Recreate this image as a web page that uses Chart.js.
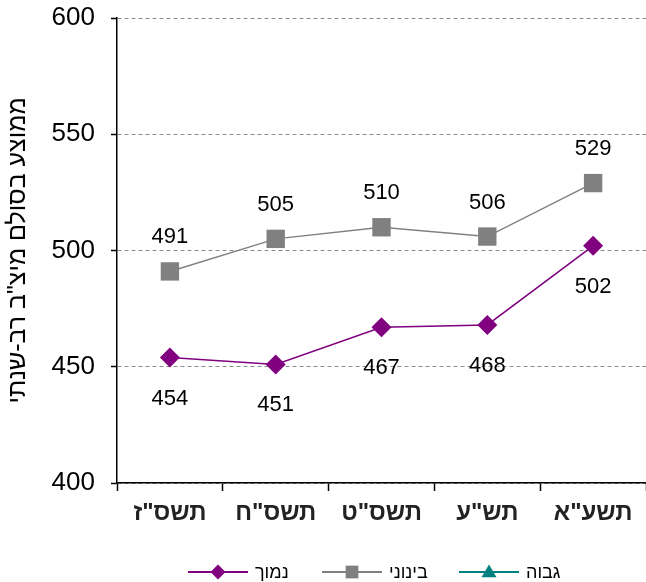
<!DOCTYPE html>
<html><head><meta charset="utf-8">
<script src="https://cdn.jsdelivr.net/npm/chart.js@4/dist/chart.umd.min.js"></script>
<style>html,body{margin:0;padding:0;background:#fff;overflow:hidden}</style>
</head><body>
<canvas id="c" width="646" height="582"></canvas>
<script>
const categories = ['תשס"ז', 'תשס"ח', 'תשס"ט', 'תש"ע', 'תשע"א'];
const lowValues = [454, 451, 467, 468, 502];
const midValues = [491, 505, 510, 506, 529];
const highValues = [null, null, null, null, null];
const yTicks = [400, 450, 500, 550, 600];
const seriesNames = ['נמוך', 'בינוני', 'גבוה'];
const axisTitle = 'ממוצע בסולם מיצ"ב רב-שנתי';

const PURPLE = '#800080', GRAY = '#808080', TEAL = '#008080';
const FONT = '"Liberation Sans", Arial, sans-serif';

function marker(ctx, style, x, y, color, s) {
  ctx.save();
  ctx.fillStyle = color;
  ctx.beginPath();
  if (style === 'rectRot') {
    ctx.moveTo(x, y - s); ctx.lineTo(x + s, y); ctx.lineTo(x, y + s); ctx.lineTo(x - s, y);
  } else if (style === 'rect') {
    ctx.rect(x - s * 0.85, y - s * 0.85, s * 1.7, s * 1.7);
  } else {
    ctx.moveTo(x, y - s); ctx.lineTo(x + s, y + s * 0.7); ctx.lineTo(x - s, y + s * 0.7);
  }
  ctx.closePath();
  ctx.fill();
  ctx.restore();
}

const labelPlugin = {
  id: 'valueLabels',
  afterDatasetsDraw(chart) {
    const ctx = chart.ctx;
    ctx.save();
    ctx.font = '22px ' + FONT;
    ctx.fillStyle = '#000';
    ctx.textAlign = 'center';
    ctx.textBaseline = 'middle';
    chart.data.datasets.forEach((ds, di) => {
      const meta = chart.getDatasetMeta(di);
      meta.data.forEach((pt, i) => {
        const v = ds.data[i];
        if (v == null) return;
        const off = di === 0 ? 41 : -34;
        ctx.fillText(String(v), pt.x, pt.y + off);
      });
    });
    ctx.restore();
  }
};

const legendPlugin = {
  id: 'customLegend',
  afterDraw(chart) {
    const ctx = chart.ctx;
    const y = 572;
    const starts = [188, 322, 459];
    const styles = ['rectRot', 'rect', 'triangle'];
    const colors = [PURPLE, GRAY, TEAL];
    ctx.save();
    ctx.font = '18px ' + FONT;
    ctx.textBaseline = 'middle';
    ctx.textAlign = 'left';
    chart.data.datasets.forEach((ds, i) => {
      const x0 = starts[i];
      ctx.strokeStyle = colors[i];
      ctx.lineWidth = 2;
      ctx.beginPath(); ctx.moveTo(x0, y); ctx.lineTo(x0 + 60, y); ctx.stroke();
      marker(ctx, styles[i], x0 + 30, y, colors[i], 7.5);
      ctx.fillStyle = '#000';
      ctx.fillText(ds.label, x0 + 67, y + 1);
    });
    ctx.restore();
  }
};

new Chart(document.getElementById('c'), {
  type: 'line',
  data: {
    labels: categories,
    datasets: [
      { label: seriesNames[0], data: lowValues, borderColor: PURPLE, backgroundColor: PURPLE,
        borderWidth: 1.5, pointStyle: 'rectRot', pointRadius: 10, pointHoverRadius: 10, pointBorderWidth: 0 },
      { label: seriesNames[1], data: midValues, borderColor: GRAY, backgroundColor: GRAY,
        borderWidth: 1.5, pointStyle: 'rect', pointRadius: 13, pointHoverRadius: 13, pointBorderWidth: 0 },
      { label: seriesNames[2], data: highValues, borderColor: TEAL, backgroundColor: TEAL,
        borderWidth: 1.5, pointStyle: 'triangle', pointRadius: 9, pointBorderWidth: 0 }
    ]
  },
  options: {
    responsive: false,
    animation: false,
    layout: { autoPadding: false, padding: { top: 18, right: -7, bottom: 0, left: 0 } },
    plugins: { legend: { display: false }, tooltip: { enabled: false } },
    scales: {
      x: {
        offset: true,
        grid: { offset: true, drawOnChartArea: false, drawTicks: true, tickLength: 8, tickColor: '#000', tickWidth: 1.5 },
        border: { display: true, color: '#000', width: 1.5 },
        ticks: { color: '#222', font: { family: FONT, size: 24, weight: 'bold' }, padding: 8, maxRotation: 0 },
        afterFit(scale) { scale.height = 99; scale.paddingLeft = 0; scale.paddingRight = 0; }
      },
      y: {
        min: 400, max: 600,
        afterBuildTicks(scale) { scale.ticks = yTicks.map(v => ({ value: v })); },
        grid: { color: '#8c8c8c', lineWidth: 1, tickLength: 6, tickColor: '#000', tickWidth: 1.5, tickBorderDash: [] },
        border: { display: true, color: '#000', width: 1.5, dash: [4, 3] },
        ticks: { color: '#000', font: { family: FONT, size: 26 }, padding: 16 },
        title: { display: true, text: axisTitle, color: '#000', font: { family: FONT, size: 25 }, padding: { top: 3, bottom: 4 } },
        afterFit(scale) { scale.width = 117; scale.paddingTop = 0; scale.paddingBottom = 0; }
      }
    }
  },
  plugins: [labelPlugin, legendPlugin]
});
</script>
</body></html>
